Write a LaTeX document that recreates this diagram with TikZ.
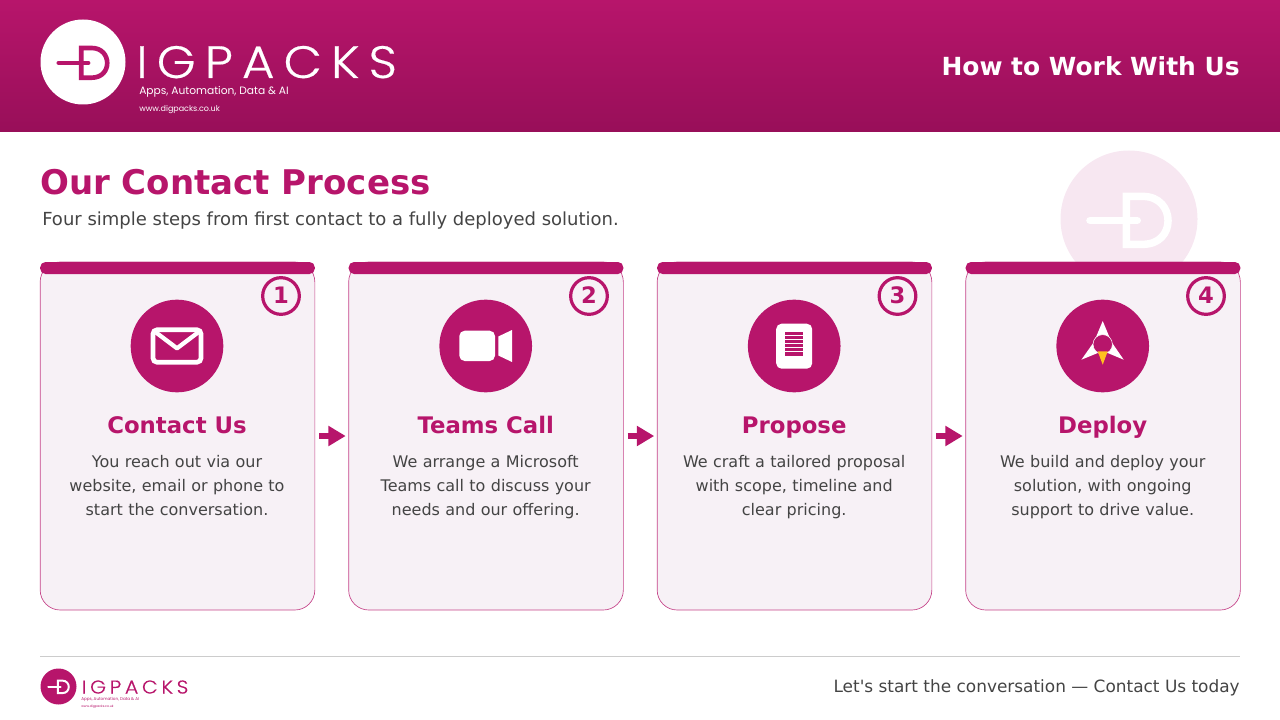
\documentclass[tikz,border=0pt]{standalone}
\usepackage{fontspec}
\setmainfont{DejaVu Sans}
\newfontfamily\logofont[LetterSpace=20,FakeStretch=1.1,FakeBold=0.4]{Poppins Light}
\newfontfamily\logosmall{Poppins}
\usetikzlibrary{arrows.meta, calc}
\definecolor{myberry}{HTML}{B7156B}
\definecolor{myberrydark}{HTML}{980F59}
\definecolor{mycard}{HTML}{F7F1F6}
\definecolor{mywater}{HTML}{F7E7F1}
\definecolor{mytext}{HTML}{444444}
\definecolor{myflame}{HTML}{FFC020}
\tikzset{
	cardnode/.style={
			rectangle,
			draw=myberry!80,
			line width=0.5pt,
			fill=mycard,
			rounded corners=15pt,
			minimum width=206pt,
			minimum height=261pt,
			inner sep=0pt
		},
	barnode/.style={
			rectangle,
			fill=myberry,
			rounded corners=4pt,
			minimum width=206pt,
			minimum height=9pt,
			inner sep=0pt
		},
	iconnode/.style={
			circle,
			fill=myberry,
			minimum size=69.5pt,
			inner sep=0pt
		},
	badgenode/.style={
			circle,
			draw=myberry,
			line width=2.4pt,
			fill=mycard,
			text=myberry,
			font=\bfseries\fontsize{17}{20}\selectfont,
			minimum size=27.5pt,
			inner sep=0pt
		},
	titletext/.style={
			font=\bfseries\fontsize{17.1}{22}\selectfont,
			text=myberry,
			anchor=base,
			inner sep=0pt
		},
	bodytext/.style={
			font=\fontsize{12}{18}\selectfont,
			text=mytext,
			align=center,
			text width=200pt,
			anchor=north,
			inner sep=0pt
		},
	flowarrow/.style={
			draw=myberry,
			line width=5pt,
			-{Triangle[length=13pt,width=14.5pt]},
			shorten <=3pt,
			shorten >=2pt
		}
}
\newcommand{\digmark}[4]{
	\begin{scope}[shift={(#1)}, x=#2*0.75pt, y=-#2*0.75pt]
		\fill[#3] (0,0) circle (1);
		\draw[#4, line width=#2*0.082pt]
			(-.04,-.33) -- (.2,-.33)
			.. controls (.45,-.33) and (.57,-.15) .. (.57,.025)
			.. controls (.57,.2) and (.45,.37) .. (.2,.37)
			-- (-.04,.37) -- cycle;
		\draw[#4, line width=#2*0.082pt, line cap=round] (-.57,.02) -- (.12,.02);
	\end{scope}
}
\begin{document}
\begin{tikzpicture}[x=0.75pt, y=-0.75pt]
\useasboundingbox (0,0) rectangle (1280,720);

% header
\shade[top color=myberry, bottom color=myberrydark] (0,0) rectangle (1280,132);
\digmark{83,62}{42.5}{white}{myberry}
\node[anchor=base west, inner sep=0pt, text=white, font=\logofont\fontsize{34}{40}\selectfont] (brand) at (136,78) {IGPACKS};
\node[anchor=base west, inner sep=0pt, text=white, font=\logosmall\fontsize{8}{10}\selectfont] (claim) at (139,94.5) {Apps, Automation, Data \& AI};
\node[anchor=base west, inner sep=0pt, text=white, font=\logosmall\fontsize{6}{8}\selectfont] (site) at (139,112) {www.digpacks.co.uk};
\node[anchor=base east, inner sep=0pt, text=white, font=\bfseries\fontsize{18.7}{24}\selectfont] (howto) at (1240,75.7) {How to Work With Us};

% heading
\digmark{1129,219}{68.5}{mywater}{white}
\node[anchor=base west, inner sep=0pt, text=myberry, font=\bfseries\fontsize{25.5}{30}\selectfont] (heading) at (40,194.5) {Our Contact Process};
\node[anchor=base west, inner sep=0pt, text=mytext, font=\fontsize{13.5}{18}\selectfont] (subheading) at (42,225.3) {Four simple steps from first contact to a fully deployed solution.};

% cards
\node[cardnode] (card1) at (177.5,436) {};
\node[cardnode] (card2) at (486,436) {};
\node[cardnode] (card3) at (794.5,436) {};
\node[cardnode] (card4) at (1103,436) {};

\node[barnode] (bar1) at (177.5,268) {};
\node[barnode] (bar2) at (486,268) {};
\node[barnode] (bar3) at (794.5,268) {};
\node[barnode] (bar4) at (1103,268) {};

\node[badgenode] (badge1) at (281,296) {\raisebox{1pt}{1}};
\node[badgenode] (badge2) at (589,296) {\raisebox{1pt}{2}};
\node[badgenode] (badge3) at (897.5,296) {\raisebox{1pt}{3}};
\node[badgenode] (badge4) at (1206,296) {\raisebox{1pt}{4}};

\node[iconnode] (icon1) at (177,346) {};
\node[iconnode] (icon2) at (485.7,346) {};
\node[iconnode] (icon3) at (794.2,346) {};
\node[iconnode] (icon4) at (1102.7,346) {};

\node[titletext] (title1) at (177,433.5) {Contact Us};
\node[titletext] (title2) at (485.7,433.5) {Teams Call};
\node[titletext] (title3) at (794.2,433.5) {Propose};
\node[titletext] (title4) at (1102.7,433.5) {Deploy};

\node[bodytext] (body1) at (177,455) {You reach out via our\\website, email or phone to\\start the conversation.};
\node[bodytext] (body2) at (485.7,455) {We arrange a Microsoft\\Teams call to discuss your\\needs and our offering.};
\node[bodytext] (body3) at (794.2,455) {We craft a tailored proposal\\with scope, timeline and\\clear pricing.};
\node[bodytext] (body4) at (1102.7,455) {We build and deploy your\\solution, with ongoing\\support to drive value.};

\draw[flowarrow] (card1.east) -- (card2.west);
\draw[flowarrow] (card2.east) -- (card3.west);
\draw[flowarrow] (card3.east) -- (card4.west);

% envelope
\begin{scope}[shift={(icon1.center)}]
\draw[white, line width=3.5pt, rounded corners=3pt] (-24,-16.2) rectangle (24,16.2);
\draw[white, line width=3.2pt, line join=round] (-21,-13.5) -- (0,2.3) -- (21,-13.5);
\end{scope}

% camera
\begin{scope}[shift={(icon2.center)}]
\fill[white, rounded corners=4pt] (-26.4,-15.3) rectangle (9.3,15);
\fill[white] (12.6,-9.5) -- (26.3,-16) -- (26.3,16) -- (12.6,9.5) -- cycle;
\end{scope}

% document
\begin{scope}[shift={(icon3.center)}]
\fill[white, rounded corners=4pt] (-18,-22.3) rectangle (18,22.7);
\fill[myberry] (-9,-13.7) rectangle (9,-10.7);
\fill[myberry] (-9,-9.7) rectangle (9,-6.7);
\fill[myberry] (-9,-5.7) rectangle (9,-2.7);
\fill[myberry] (-9,-1.7) rectangle (9,1.3);
\fill[myberry] (-9,2.3) rectangle (9,5.3);
\fill[myberry] (-9,6.3) rectangle (9,9.7);
\end{scope}

% rocket
\begin{scope}[shift={(icon4.center)}]
\fill[white] (0,-25) -- (-10,-1) -- (10,-1) -- cycle;
\fill[white] (-21.3,13.7) -- (-9.5,-3) -- (-5,7) -- cycle;
\fill[white] (21,13.7) -- (9.5,-3) -- (5,7) -- cycle;
\filldraw[fill=myberry, draw=white, line width=0.4pt] (0,-1.7) circle (9.7);
\fill[myflame] (-5,5.3) -- (5,5.3) -- (0,18.7) -- cycle;
\end{scope}

% footer
\draw[draw=black!20, line width=0.75pt] (40,656.5) -- (1240,656.5);
\digmark{58.5,686.5}{18}{myberry}{white}
\node[anchor=base west, inner sep=0pt, text=myberry, font=\logofont\fontsize{13.9}{16}\selectfont] (brandsmall) at (81.5,693.5) {IGPACKS};
\node[anchor=base west, inner sep=0pt, text=myberry, font=\logosmall\fontsize{3.1}{4}\selectfont] (claimsmall) at (81,700.5) {Apps, Automation, Data \& AI};
\node[anchor=base west, inner sep=0pt, text=myberry, font=\logosmall\fontsize{2.4}{3}\selectfont] (sitesmall) at (81,707.5) {www.digpacks.co.uk};
\node[anchor=base east, inner sep=0pt, text=mytext, font=\fontsize{12.7}{16}\selectfont] (cta) at (1240,692) {Let\textquotesingle s start the conversation — Contact Us today};
\end{tikzpicture}
\end{document}
